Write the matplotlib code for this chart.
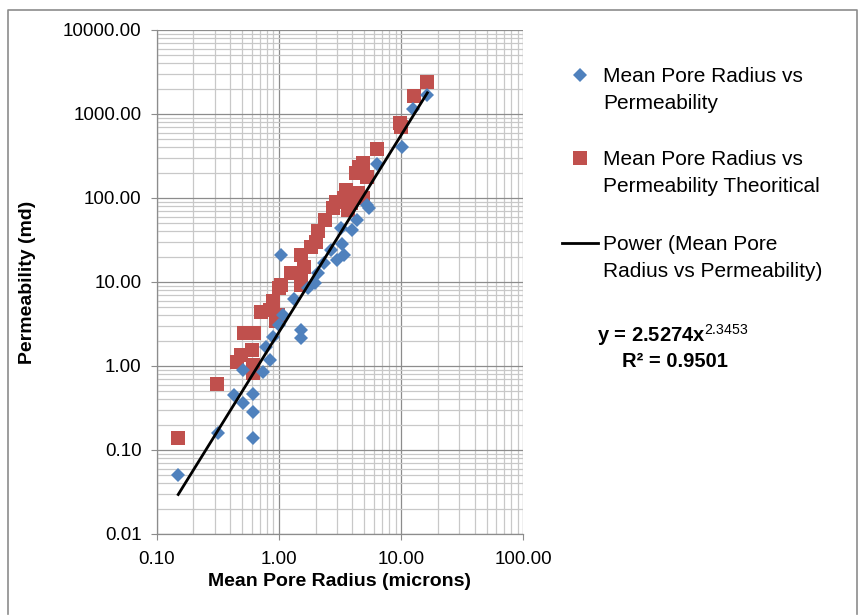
import numpy as np
import matplotlib
matplotlib.use("Agg")
import matplotlib.pyplot as plt
from matplotlib.lines import Line2D
from matplotlib.ticker import LogLocator, FuncFormatter, NullFormatter

plt.rcParams['font.family'] = ['Liberation Sans', 'DejaVu Sans']
plt.rcParams['mathtext.fontset'] = 'custom'
plt.rcParams['mathtext.rm'] = 'Liberation Sans'
plt.rcParams['mathtext.bf'] = 'Liberation Sans:bold'

# Donnees (rayon moyen en microns, permeabilite en md)
x_mesure = [0.15, 0.32, 0.43, 0.51, 0.51, 0.61, 0.61, 0.61, 0.74, 0.84,
            0.79, 0.89, 1.0, 1.08, 1.05, 1.34, 1.52, 1.52, 1.73, 1.96,
            2.08, 2.36, 2.66, 3.0, 3.4, 3.3, 3.2, 4.0, 4.35, 5.3,
            5.5, 6.3, 10.2, 12.6, 16.4]
y_mesure = [0.05, 0.16, 0.45, 0.36, 0.89, 0.47, 0.28, 0.14, 0.86, 1.19,
            1.7, 2.24, 3.09, 4.06, 21.0, 6.2, 2.7, 2.15, 8.4, 9.7,
            12.7, 16.7, 24.0, 18.4, 21.0, 28.0, 44.0, 42.0, 55.0, 83.0,
            77.0, 255.0, 410.0, 1140.0, 1700.0]

x_theorique = [0.15, 0.31, 0.45, 0.49, 0.6, 0.61, 0.61, 0.52, 0.63, 0.72,
               0.84, 0.89, 0.98, 0.95, 1.0, 1.04, 1.26, 1.52, 1.52, 1.6,
               1.52, 1.83, 2.0, 2.08, 2.4, 2.75, 2.94, 3.43, 3.55, 3.65,
               3.9, 4.4, 4.9, 4.3, 4.5, 4.9, 5.3, 6.4, 9.8, 10.0,
               12.7, 16.2]
y_theorique = [0.14, 0.61, 1.13, 1.37, 1.57, 1.03, 0.82, 2.46, 2.5, 4.45,
               4.65, 5.9, 4.06, 3.4, 8.4, 9.2, 12.7, 12.7, 9.2, 15.0,
               21.0, 26.4, 30.0, 40.0, 55.0, 76.0, 90.0, 100.0, 125.0, 72.0,
               87.0, 114.0, 100.0, 197.0, 237.0, 260.0, 180.0, 385.0, 790.0, 700.0,
               1640.0, 2430.0]

# Tendance de puissance affichee sur le graphique
coef_a = 2.5274
coef_b = 2.3453
r_carre = 0.9501

bleu = '#4F81BD'
rouge = '#C0504D'
L, H = 866, 615

fig = plt.figure(figsize=(L / 100, H / 100), dpi=100)
ax = fig.add_axes([156.7 / L, 1 - 534 / H, (523.3 - 156.7) / L, (534 - 30) / H])

ax.plot(x_theorique, y_theorique, linestyle='none', marker='s', ms=10,
        color=rouge, mec=rouge, mew=0, zorder=3)
ax.plot(x_mesure, y_mesure, linestyle='none', marker='D', ms=6.8,
        color=bleu, mec=bleu, mew=0, zorder=4)

x_tendance = np.geomspace(min(x_mesure), max(x_mesure), 60)
ax.plot(x_tendance, coef_a * x_tendance ** coef_b, color='black', lw=2, zorder=5)

ax.set_xscale('log')
ax.set_yscale('log')
ax.set_xlim(0.1, 100)
ax.set_ylim(0.01, 10000)

fmt = FuncFormatter(lambda v, p: f'{v:.2f}')
ax.xaxis.set_major_formatter(fmt)
ax.yaxis.set_major_formatter(fmt)
ax.xaxis.set_minor_locator(LogLocator(base=10, subs=np.arange(2, 10)))
ax.yaxis.set_minor_locator(LogLocator(base=10, subs=np.arange(2, 10)))
ax.xaxis.set_minor_formatter(NullFormatter())
ax.yaxis.set_minor_formatter(NullFormatter())

ax.grid(True, which='major', color='#8C8C8C', lw=0.9)
ax.grid(True, which='minor', color='#C8C8C8', lw=0.9)
ax.set_axisbelow(True)

for cote in ['top', 'right']:
    ax.spines[cote].set_visible(False)
for cote in ['left', 'bottom']:
    ax.spines[cote].set_color('#8C8C8C')
    ax.spines[cote].set_linewidth(0.9)

ax.tick_params(which='major', length=4, color='#8C8C8C', labelsize=13.5, pad=7)
ax.tick_params(axis='x', which='major', pad=8)
ax.tick_params(which='minor', length=0)

ax.set_xlabel('Mean Pore Radius (microns)', fontsize=14, fontweight='bold', labelpad=4)
ax.set_ylabel('Permeability (md)', fontsize=14, fontweight='bold', labelpad=19)

# Legende dessinee a la main (etiquettes sur deux lignes)
def px(x, y):
    return x / L, 1 - y / H

entrees = [
    ('D', ['Mean Pore Radius vs', 'Permeability'], 75),
    ('s', ['Mean Pore Radius vs', 'Permeability Theoritical'], 158),
    ('-', ['Power (Mean Pore', 'Radius vs Permeability)'], 243),
]
for symbole, lignes, y0 in entrees:
    if symbole == 'D':
        fig.add_artist(Line2D(*zip(px(580, y0)), transform=fig.transFigure,
                              marker='D', ms=6.8, color=bleu, mew=0, linestyle='none'))
    elif symbole == 's':
        fig.add_artist(Line2D(*zip(px(580, y0)), transform=fig.transFigure,
                              marker='s', ms=10, color=rouge, mew=0, linestyle='none'))
    else:
        xa, ya = px(562, y0)
        xb, yb = px(598, y0)
        fig.add_artist(Line2D([xa, xb], [ya, yb], transform=fig.transFigure,
                              color='black', lw=2))
    for k, ligne in enumerate(lignes):
        fig.text(*px(603, y0 + 27 * k + 7), ligne, fontsize=15, va='baseline', ha='left')

fig.text(*px(597, 342), r'y = %.4fx$^{\mathrm{%.4f}}$' % (coef_a, coef_b),
         fontsize=14.5, fontweight='bold', va='baseline', ha='left')
fig.text(*px(622, 367), 'R\u00b2 = %.4f' % r_carre,
         fontsize=14.5, fontweight='bold', va='baseline', ha='left')

# Cadre de la zone du graphique (le bas sort de l'image)
xg, yh = px(8, 10)
xd, yb = px(857, 614)
fig.add_artist(Line2D([xg, xg, xd, xd], [yb, yh, yh, yb], transform=fig.transFigure,
                      color='#8C8C8C', lw=1.2))

fig.savefig('out.png', dpi=100)
